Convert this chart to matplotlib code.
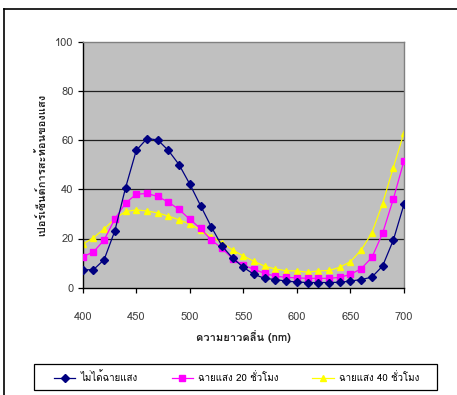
import matplotlib
matplotlib.use("Agg")
import matplotlib.pyplot as plt
from matplotlib import font_manager
from matplotlib.lines import Line2D
from matplotlib.patches import Rectangle

# Wavelengths (nm) and reflectance (%) for the three samples
wavelength = list(range(400, 701, 10))

no_light = [7.3, 7.3, 11.4, 23.1, 40.6, 55.8, 60.6, 60.1, 55.8, 50.0, 42.1,
            33.4, 24.8, 17.0, 12.0, 8.3, 5.4, 3.8, 3.3, 2.7, 2.3,
            2.1, 2.1, 2.1, 2.2, 2.7, 3.3, 4.3, 8.8, 19.3, 33.9]

light_20h = [12.6, 14.5, 19.4, 27.9, 34.4, 38.0, 38.3, 37.1, 34.8, 31.8, 27.8,
             24.1, 19.4, 16.0, 11.8, 9.1, 7.5, 5.8, 4.7, 4.2, 4.0,
             3.8, 3.8, 3.8, 4.2, 5.4, 7.7, 12.3, 22.1, 36.0, 51.6]

light_40h = [17.7, 20.3, 23.9, 28.0, 31.0, 31.6, 31.2, 30.4, 29.1, 27.6, 25.9,
             23.4, 20.7, 18.3, 15.3, 12.9, 10.7, 8.7, 7.6, 6.9, 6.8,
             6.3, 6.8, 7.0, 8.3, 10.6, 15.3, 22.3, 34.2, 48.8, 63.0]

series_labels = ["ไม่ได้ฉายแสง", "ฉายแสง 20 ชั่วโมง", "ฉายแสง 40 ชั่วโมง"]
x_label = "ความยาวคลื่น (nm)"
y_label = "เปอร์เซ็นต์การสะท้อนของแสง"
x_ticks = [400, 450, 500, 550, 600, 650, 700]
y_ticks = [0, 20, 40, 60, 80, 100]


def thai_family():
    """Return the name of an installed font that has Thai glyphs."""
    try:
        from fontTools.ttLib import TTFont
    except Exception:
        return None
    preferred = []
    for f in font_manager.fontManager.ttflist:
        try:
            tt = TTFont(f.fname, fontNumber=0, lazy=True)
            cmap = tt.getBestCmap()
            if cmap and 0x0E04 in cmap and 0x0E39 in cmap:
                preferred.append(f.name)
        except Exception:
            continue
    for name in preferred:
        if "Sans" in name or "Loma" in name or "Garuda" in name:
            return name
    return preferred[0] if preferred else None


thai = thai_family()
families = ([thai] if thai else []) + ["Liberation Sans", "DejaVu Sans"]
plt.rcParams["font.family"] = families

W, H = 457, 395
fig = plt.figure(figsize=(W / 100, H / 100), dpi=100)
fig.patch.set_facecolor("white")

ax = fig.add_axes([82.7 / W, 1 - 287.7 / H, (404 - 82.7) / W, (287.7 - 41.7) / H])
ax.set_facecolor("#C0C0C0")

ax.plot(wavelength, no_light, color="#000080", lw=0.9, marker="D", ms=3.6,
        mfc="#000080", mec="#000080", label=series_labels[0], zorder=4)
ax.plot(wavelength, light_20h, color="#FF00FF", lw=0.9, marker="s", ms=4.4,
        mfc="#FF00FF", mec="#FF00FF", label=series_labels[1], zorder=3)
ax.plot(wavelength, light_40h, color="#FFFF00", lw=0.9, marker="^", ms=5.0,
        mfc="#FFFF00", mec="#FFFF00", label=series_labels[2], zorder=2)

ax.set_xlim(400, 700)
ax.set_ylim(0, 100)
ax.set_xticks(x_ticks)
ax.set_yticks(y_ticks)
for y in y_ticks[1:-1]:
    ax.axhline(y, color="#202020", lw=0.9, zorder=1)

ax.tick_params(axis="both", direction="out", length=3.5, width=0.9,
               colors="black", labelcolor="#404040", labelsize=8)
ax.tick_params(axis="x", pad=14)
ax.tick_params(axis="y", pad=3)

for side in ("left", "bottom"):
    ax.spines[side].set_color("black")
    ax.spines[side].set_linewidth(1.0)
for side in ("top", "right"):
    ax.spines[side].set_color("#808080")
    ax.spines[side].set_linewidth(1.0)

ax.set_xlabel(x_label, fontsize=8, fontweight="bold", color="#202020", labelpad=6)
ax.set_ylabel(y_label, fontsize=8, fontweight="bold", color="#202020", labelpad=5)

# legend: entries in one row inside a black box below the plot
handles = [
    Line2D([], [], color="#000080", lw=0.9, marker="D", ms=3.6),
    Line2D([], [], color="#FF00FF", lw=0.9, marker="s", ms=4.4),
    Line2D([], [], color="#FFFF00", lw=0.9, marker="^", ms=5.0),
]
leg = fig.legend(handles, series_labels, loc="center left",
                 bbox_to_anchor=(54 / W, 1 - 377 / H),
                 ncol=3, frameon=False, fontsize=7,
                 handlelength=2.2, columnspacing=3.5, borderpad=0.0,
                 borderaxespad=0.0, handletextpad=0.5)
fig.add_artist(Rectangle((34 / W, 1 - 390 / H), (437 - 34) / W, 26 / H,
                         transform=fig.transFigure, fill=False,
                         edgecolor="black", lw=0.9))

# outer chart frame (top and left edges)
fig.add_artist(Line2D([4 / W, 1.0], [1 - 9 / H, 1 - 9 / H], color="black",
                      lw=1.2, transform=fig.transFigure))
fig.add_artist(Line2D([4 / W, 4 / W], [0.0, 1 - 9 / H], color="black",
                      lw=1.2, transform=fig.transFigure))

fig.savefig("out.png", dpi=100)
